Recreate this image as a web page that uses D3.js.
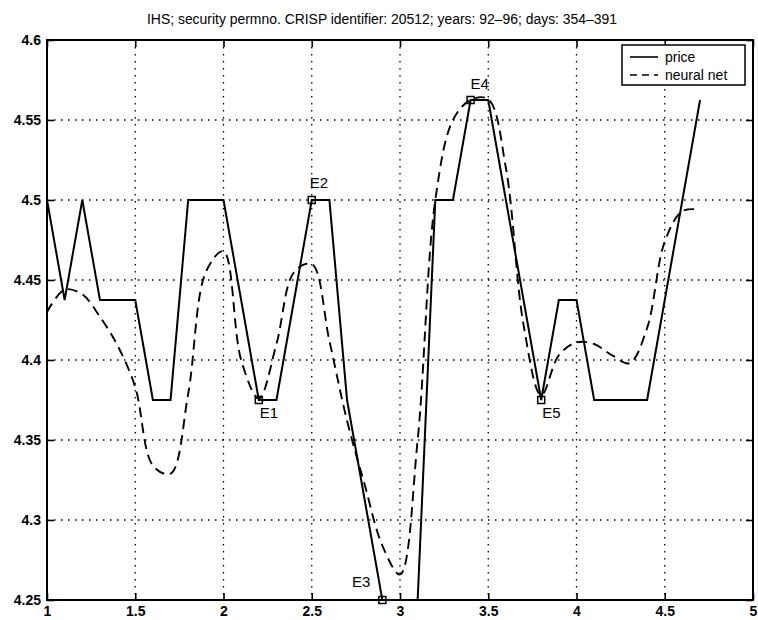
<!DOCTYPE html>
<html>
<head>
<meta charset="utf-8">
<script src="https://cdn.jsdelivr.net/npm/d3@7"></script>
<style>
  body { margin: 0; background: #fff; }
  svg { display: block; font-family: "Liberation Sans", Arial, sans-serif; }
</style>
</head>
<body>
<div id="chart"></div>
<script>
const title = 'IHS; security permno. CRISP identifier: 20512; years: 92\u201396; days: 354\u2013391';

const xTicks = [1, 1.5, 2, 2.5, 3, 3.5, 4, 4.5, 5];
const yTicks = [4.25, 4.3, 4.35, 4.4, 4.45, 4.5, 4.55, 4.6];

const days = [1.0, 1.1, 1.2, 1.3, 1.4, 1.5, 1.6, 1.7, 1.8, 1.9,
              2.0, 2.1, 2.2, 2.3, 2.4, 2.5, 2.6, 2.7, 2.8, 2.9,
              3.0, 3.1, 3.2, 3.3, 3.4, 3.5, 3.6, 3.7, 3.8, 3.9,
              4.0, 4.1, 4.2, 4.3, 4.4, 4.5, 4.6, 4.7];

const price = [4.5, 4.4375, 4.5, 4.4375, 4.4375, 4.4375, 4.375, 4.375, 4.5, 4.5,
               4.5, 4.4375, 4.375, 4.375, 4.4375, 4.5, 4.5, 4.375, 4.3125, 4.25,
               4.1875, 4.25, 4.5, 4.5, 4.5625, 4.5625, 4.5, 4.4375, 4.375, 4.4375,
               4.4375, 4.375, 4.375, 4.375, 4.375, 4.4375, 4.5, 4.5625];

const neuralNet = [4.43, 4.444, 4.441, 4.427, 4.409, 4.383, 4.334, 4.329, 4.379, 4.455,
                   4.468, 4.40, 4.376, 4.41, 4.455, 4.460, 4.412, 4.362, 4.322, 4.284,
                   4.266, 4.35, 4.50, 4.55, 4.5625, 4.563, 4.52, 4.422, 4.378, 4.403,
                   4.411, 4.41, 4.403, 4.398, 4.42, 4.474, 4.493, 4.494];

const eventNames = ['E1', 'E2', 'E3', 'E4', 'E5'];
const eventDays = [2.2, 2.5, 2.9, 3.4, 3.8];
const eventPrices = [4.375, 4.5, 4.25, 4.5625, 4.375];

const legendLabels = ['price', 'neural net'];

const W = 758, H = 620;
const plotL = 47, plotR = 753, plotT = 40, plotB = 600;

const x = d3.scaleLinear().domain([1, 5]).range([plotL, plotR]);
const y = d3.scaleLinear().domain([4.25, 4.6]).range([plotB, plotT]);

const svg = d3.select('#chart').append('svg')
  .attr('width', W)
  .attr('height', H);

svg.append('defs').append('clipPath')
  .attr('id', 'plot-clip')
  .append('rect')
    .attr('x', plotL)
    .attr('y', plotT)
    .attr('width', plotR - plotL)
    .attr('height', plotB - plotT);

// dotted grid
svg.append('g')
  .selectAll('line')
  .data(xTicks.slice(1, -1))
  .join('line')
    .attr('x1', d => x(d)).attr('x2', d => x(d))
    .attr('y1', plotT).attr('y2', plotB)
    .attr('stroke', '#000')
    .attr('stroke-width', 1.3)
    .attr('stroke-dasharray', '1.5,5.5');

svg.append('g')
  .selectAll('line')
  .data(yTicks.slice(1, -1))
  .join('line')
    .attr('x1', plotL).attr('x2', plotR)
    .attr('y1', d => y(d)).attr('y2', d => y(d))
    .attr('stroke', '#000')
    .attr('stroke-width', 1.3)
    .attr('stroke-dasharray', '1.5,5.5');

// axes with inward ticks
const styleAxis = g => {
  g.select('.domain').remove();
  g.selectAll('.tick line').attr('stroke', '#000').attr('stroke-width', 1.6);
  g.selectAll('.tick text')
    .attr('fill', '#000')
    .attr('font-size', 14)
    .attr('font-weight', 'bold');
};

svg.append('g')
  .attr('transform', `translate(0,${plotB})`)
  .call(d3.axisBottom(x).tickValues(xTicks).tickSize(-7).tickPadding(6).tickFormat(d3.format('')))
  .call(styleAxis);

svg.append('g')
  .attr('transform', `translate(0,${plotT})`)
  .call(d3.axisTop(x).tickValues(xTicks).tickSize(-7).tickFormat(''))
  .call(styleAxis);

svg.append('g')
  .attr('transform', `translate(${plotL},0)`)
  .call(d3.axisLeft(y).tickValues(yTicks).tickSize(-7).tickPadding(6).tickFormat(d3.format('')))
  .call(styleAxis);

svg.append('g')
  .attr('transform', `translate(${plotR},0)`)
  .call(d3.axisRight(y).tickValues(yTicks).tickSize(-7).tickFormat(''))
  .call(styleAxis);

svg.append('rect')
  .attr('x', plotL).attr('y', plotT)
  .attr('width', plotR - plotL).attr('height', plotB - plotT)
  .attr('fill', 'none')
  .attr('stroke', '#000')
  .attr('stroke-width', 2);

// series
const plot = svg.append('g').attr('clip-path', 'url(#plot-clip)');

const line = d3.line().x(d => x(d[0])).y(d => y(d[1]));
const smooth = d3.line().x(d => x(d[0])).y(d => y(d[1])).curve(d3.curveCatmullRom.alpha(0.5));

plot.append('path')
  .datum(d3.zip(days, neuralNet))
  .attr('d', smooth)
  .attr('fill', 'none')
  .attr('stroke', '#000')
  .attr('stroke-width', 1.9)
  .attr('stroke-dasharray', '10,6');

plot.append('path')
  .datum(d3.zip(days, price))
  .attr('d', line)
  .attr('fill', 'none')
  .attr('stroke', '#000')
  .attr('stroke-width', 2)
  .attr('stroke-linejoin', 'miter');

// event markers
const labelPos = {
  E1: { dx: 1, dy: 18, anchor: 'start' },
  E2: { dx: -2, dy: -12, anchor: 'start' },
  E3: { dx: -12, dy: -13, anchor: 'end' },
  E4: { dx: 0, dy: -11, anchor: 'start' },
  E5: { dx: 1, dy: 18, anchor: 'start' }
};

const events = d3.zip(eventNames, eventDays, eventPrices);

svg.append('g')
  .selectAll('rect')
  .data(events)
  .join('rect')
    .attr('x', d => x(d[1]) - 3.5)
    .attr('y', d => y(d[2]) - 3.5)
    .attr('width', 7)
    .attr('height', 7)
    .attr('fill', 'none')
    .attr('stroke', '#000')
    .attr('stroke-width', 1.5);

svg.append('g')
  .selectAll('text')
  .data(events)
  .join('text')
    .attr('x', d => x(d[1]) + labelPos[d[0]].dx)
    .attr('y', d => y(d[2]) + labelPos[d[0]].dy)
    .attr('text-anchor', d => labelPos[d[0]].anchor)
    .attr('font-size', 15)
    .text(d => d[0]);

// title
svg.append('text')
  .attr('x', 382)
  .attr('y', 24)
  .attr('text-anchor', 'middle')
  .attr('font-size', 14)
  .attr('textLength', 470)
  .attr('lengthAdjust', 'spacingAndGlyphs')
  .text(title);

// legend
const legend = svg.append('g').attr('transform', 'translate(622,45)');

legend.append('rect')
  .attr('width', 123)
  .attr('height', 40)
  .attr('fill', '#fff')
  .attr('stroke', '#000')
  .attr('stroke-width', 1.5);

const legendDash = [null, '7,5'];
legendLabels.forEach((label, i) => {
  legend.append('line')
    .attr('x1', 8).attr('x2', 36)
    .attr('y1', 12 + i * 18).attr('y2', 12 + i * 18)
    .attr('stroke', '#000')
    .attr('stroke-width', 1.6)
    .attr('stroke-dasharray', legendDash[i]);
  legend.append('text')
    .attr('x', 43)
    .attr('y', 17 + i * 18)
    .attr('font-size', 14)
    .text(label);
});
</script>
</body>
</html>
